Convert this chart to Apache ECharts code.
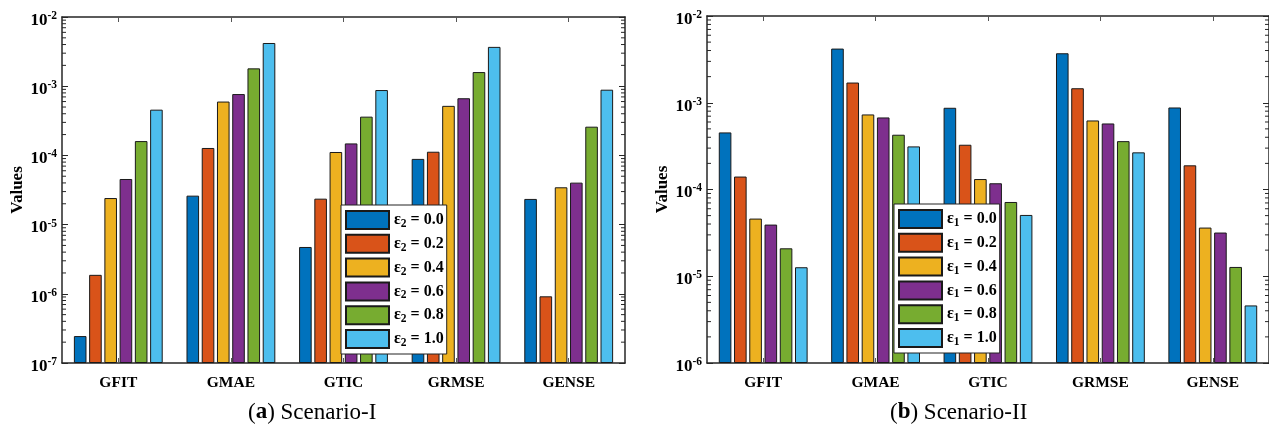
<!DOCTYPE html>
<html>
<head>
<meta charset="utf-8">
<script src="https://cdn.jsdelivr.net/npm/echarts@6/dist/echarts.min.js"></script>
<style>
  html, body {margin: 0; padding: 0; background: #fff;}
  .chart {width: 1269px; height: 430px;}
</style>
</head>
<body>
<div class="chart"></div>
<script>
const categories = ['GFIT', 'GMAE', 'GTIC', 'GRMSE', 'GENSE'];
const levels = ['0.0', '0.2', '0.4', '0.6', '0.8', '1.0'];
const colors = ['#0072BD', '#D95319', '#EDB120', '#7E2F8E', '#77AC30', '#4DBEEE'];

// Scenario-I, one array per eps2 level (GFIT, GMAE, GTIC, GRMSE, GENSE)
const s1_e00 = [2.45e-7, 2.62e-5, 4.75e-6, 8.9e-5, 2.35e-5];
const s1_e02 = [1.88e-6, 1.28e-4, 2.37e-5, 1.13e-4, 9.2e-7];
const s1_e04 = [2.42e-5, 6.0e-4, 1.12e-4, 5.2e-4, 3.46e-5];
const s1_e06 = [4.56e-5, 7.7e-4, 1.49e-4, 6.7e-4, 4.04e-5];
const s1_e08 = [1.61e-4, 1.81e-3, 3.63e-4, 1.6e-3, 2.6e-4];
const s1_e10 = [4.58e-4, 4.21e-3, 8.8e-4, 3.7e-3, 8.9e-4];

// Scenario-II, one array per eps1 level
const s2_e00 = [4.55e-4, 4.21e-3, 8.75e-4, 3.72e-3, 8.82e-4];
const s2_e02 = [1.41e-4, 1.71e-3, 3.28e-4, 1.47e-3, 1.90e-4];
const s2_e04 = [4.62e-5, 7.33e-4, 1.32e-4, 6.25e-4, 3.64e-5];
const s2_e06 = [3.94e-5, 6.77e-4, 1.18e-4, 5.77e-4, 3.19e-5];
const s2_e08 = [2.10e-5, 4.28e-4, 7.18e-5, 3.61e-4, 1.28e-5];
const s2_e10 = [1.27e-5, 3.14e-4, 5.09e-5, 2.68e-4, 4.61e-6];

const scen1 = [s1_e00, s1_e02, s1_e04, s1_e06, s1_e08, s1_e10];
const scen2 = [s2_e00, s2_e02, s2_e04, s2_e06, s2_e08, s2_e10];

const serif = 'Liberation Serif';
const axisColor = '#262626';

// minor ticks of the log axes (2..9 x 10^k)
function minorTicks(lo, hi) {
  const out = [];
  for (let k = lo; k < hi; k++) {
    for (let m = 2; m <= 9; m++) out.push([0, m * Math.pow(10, k)]);
  }
  return out;
}

const renderMinor = (params, api) => {
  const y = api.coord([0, api.value(1)])[1];
  const cs = params.coordSys;
  const st = {stroke: axisColor, lineWidth: 1};
  return {
    type: 'group',
    children: [
      {type: 'line', shape: {x1: cs.x, y1: y, x2: cs.x + 4, y2: y}, style: st},
      {type: 'line', shape: {x1: cs.x + cs.width, y1: y, x2: cs.x + cs.width - 4, y2: y}, style: st}
    ]
  };
};

const yLabel = {
  color: '#000',
  margin: 5,
  padding: [7, 0, 0, 0],
  formatter: v => '{b|10}{s|' + Math.round(Math.log10(v)) + '}',
  rich: {
    b: {fontFamily: serif, fontWeight: 'bold', fontSize: 17, color: '#000'},
    s: {fontFamily: serif, fontWeight: 'bold', fontSize: 11.5, color: '#000', padding: [0, 0, 9, 0]}
  }
};

function makeX(gridIndex, top) {
  return {
    type: 'category',
    gridIndex: gridIndex,
    position: top ? 'top' : 'bottom',
    data: categories,
    axisLine: {show: true, lineStyle: {color: axisColor, width: 1.5}},
    axisTick: {show: true, inside: true, alignWithLabel: true, length: 5, lineStyle: {color: '#555'}},
    axisLabel: top ? {show: false} : {
      show: true, color: '#000', margin: 12,
      fontFamily: serif, fontWeight: 'bold', fontSize: 15.5
    }
  };
}

function makeY(gridIndex, right, min) {
  return {
    type: 'log',
    logBase: 10,
    gridIndex: gridIndex,
    position: right ? 'right' : 'left',
    min: min,
    max: 1e-2,
    interval: 1,
    startValue: min,
    splitLine: {show: false},
    axisLine: {show: true, lineStyle: {color: axisColor, width: 1.5}},
    axisTick: {show: true, inside: true, length: 6, lineStyle: {color: axisColor}},
    axisLabel: right ? {show: false} : yLabel,
    name: right ? '' : 'Values',
    nameLocation: 'middle',
    nameGap: 35,
    nameTextStyle: {fontFamily: serif, fontWeight: 'bold', fontSize: 17, color: '#000'}
  };
}

function barSeries(prefix, arr, xi, yi) {
  return arr.map((vals, i) => ({
    name: prefix + levels[i],
    type: 'bar',
    xAxisIndex: xi,
    yAxisIndex: yi,
    data: vals,
    barWidth: 12.6,
    barGap: '21%',
    itemStyle: {color: colors[i], borderColor: '#1a1a1a', borderWidth: 1},
    emphasis: {disabled: true}
  }));
}

function makeLegend(sub, names, left, top) {
  return {
    orient: 'vertical',
    left: left,
    top: top,
    data: names,
    itemWidth: 43,
    itemHeight: 18,
    itemGap: 3.8,
    padding: [5, 3, 5, 4],
    backgroundColor: '#fff',
    borderColor: '#222',
    borderWidth: 1,
    borderRadius: 0,
    icon: 'rect',
    selectedMode: false,
    formatter: name => '{e|ε}{sub|' + sub + '}{e| = ' + name.split('_')[1] + '}',
    textStyle: {
      rich: {
        e: {fontFamily: serif, fontWeight: 'bold', fontSize: 16, color: '#000', lineHeight: 18},
        sub: {fontFamily: serif, fontWeight: 'bold', fontSize: 11.5, color: '#000', padding: [8, 0, 0, 0], lineHeight: 18}
      }
    }
  };
}

const names1 = levels.map(l => 'e2_' + l);
const names2 = levels.map(l => 'e1_' + l);

const option = {
  backgroundColor: '#fff',
  animation: false,
  color: colors,
  grid: [
    {left: 62, top: 17, width: 563, height: 346},
    {left: 707, top: 16, width: 566, height: 347}
  ],
  xAxis: [makeX(0, false), makeX(0, true), makeX(1, false), makeX(1, true)],
  yAxis: [makeY(0, false, 1e-7), makeY(0, true, 1e-7), makeY(1, false, 1e-6), makeY(1, true, 1e-6)],
  legend: [
    makeLegend('2', names1, 341, 205),
    makeLegend('1', names2, 894, 204)
  ],
  series: [
    ...barSeries('e2_', scen1, 0, 0),
    ...barSeries('e1_', scen2, 2, 2),
    {type: 'custom', xAxisIndex: 0, yAxisIndex: 0, renderItem: renderMinor, data: minorTicks(-7, -2), silent: true, clip: false, z: 3},
    {type: 'custom', xAxisIndex: 2, yAxisIndex: 2, renderItem: renderMinor, data: minorTicks(-6, -2), silent: true, clip: false, z: 3}
  ],
  graphic: [
    {
      type: 'text', left: 248, top: 401,
      style: {
        text: '{p|(}{a|a}{p|) Scenario-I}',
        rich: {
          p: {fontFamily: serif, fontSize: 23, fill: '#000'},
          a: {fontFamily: serif, fontSize: 23, fontWeight: 'bold', fill: '#000'}
        }
      }
    },
    {
      type: 'text', left: 890, top: 401,
      style: {
        text: '{p|(}{a|b}{p|) Scenario-II}',
        rich: {
          p: {fontFamily: serif, fontSize: 23, fill: '#000'},
          a: {fontFamily: serif, fontSize: 23, fontWeight: 'bold', fill: '#000'}
        }
      }
    }
  ]
};

const chart = echarts.init(document.querySelector('.chart'));
chart.setOption(option);
</script>
</body>
</html>
